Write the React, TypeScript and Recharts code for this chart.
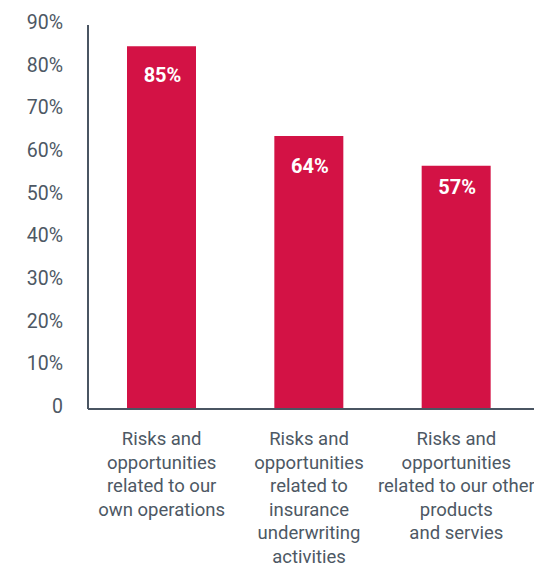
import React from 'react';
import { BarChart, Bar, XAxis, YAxis, LabelList } from 'recharts';

const categories = [
  'Risks and\nopportunities\nrelated to our\nown operations',
  'Risks and\nopportunities\nrelated to\ninsurance\nunderwriting\nactivities',
  'Risks and\nopportunities\nrelated to our other\nproducts\nand servies',
];
const values = [85, 64, 57];
const yTicks = [0, 10, 20, 30, 40, 50, 60, 70, 80, 90];

const data = categories.map((c, i) => ({ name: c, value: values[i] }));

const AXIS = '#4a5562';
const TEXT = '#4d5864';
const BAR = '#d31245';
const FONT = 'Roboto, sans-serif';
const labelOffsets = [29, 30, 21];

const YTick = (props: any) => {
  const { x, y, payload } = props;
  const v = payload.value;
  return (
    <text x={x} y={y - 3} dy="0.355em" textAnchor="end" fill={TEXT} fontSize={19.5} fontFamily={FONT}>
      {v === 0 ? '0' : `${v}%`}
    </text>
  );
};

const XTick = (props: any) => {
  const { x, y, payload } = props;
  const lines = String(payload.value).split('\n');
  return (
    <text x={x} y={y} textAnchor="middle" fill={TEXT} fontSize={18.5} fontFamily={FONT}>
      {lines.map((l, i) => (
        <tspan key={i} x={x} dy={i === 0 ? 36 : 23.5}>
          {l}
        </tspan>
      ))}
    </text>
  );
};

const BarLabel = (props: any) => {
  const { x, y, width, value, index } = props;
  return (
    <text
      x={x + width / 2 + 1}
      y={y + labelOffsets[index]}
      dy="0.355em"
      textAnchor="middle"
      fill="#ffffff"
      fontSize={20}
      fontWeight={700}
      fontFamily={FONT}
    >
      {`${value}%`}
    </text>
  );
};

export default function App() {
  return (
    <div style={{ position: 'absolute', left: 0, top: 0, width: 534, height: 565, background: '#fff' }}>
      <BarChart
        width={534}
        height={565}
        data={data}
        margin={{ top: 25, right: 0, left: 0, bottom: 0 }}
        barSize={69}
      >
        <XAxis
          dataKey="name"
          interval={0}
          tickLine={false}
          tickSize={0}
          tickMargin={0}
          padding={{ left: 0, right: 4 }}
          axisLine={{ stroke: AXIS, strokeWidth: 2 }}
          tick={<XTick />}
          height={156}
        />
        <YAxis
          width={88}
          domain={[0, 90]}
          ticks={yTicks}
          interval={0}
          tickLine={false}
          tickSize={0}
          tickMargin={25}
          axisLine={{ stroke: AXIS, strokeWidth: 2 }}
          tick={<YTick />}
        />
        <Bar dataKey="value" fill={BAR} isAnimationActive={false}>
          <LabelList dataKey="value" content={<BarLabel />} />
        </Bar>
      </BarChart>
    </div>
  );
}
